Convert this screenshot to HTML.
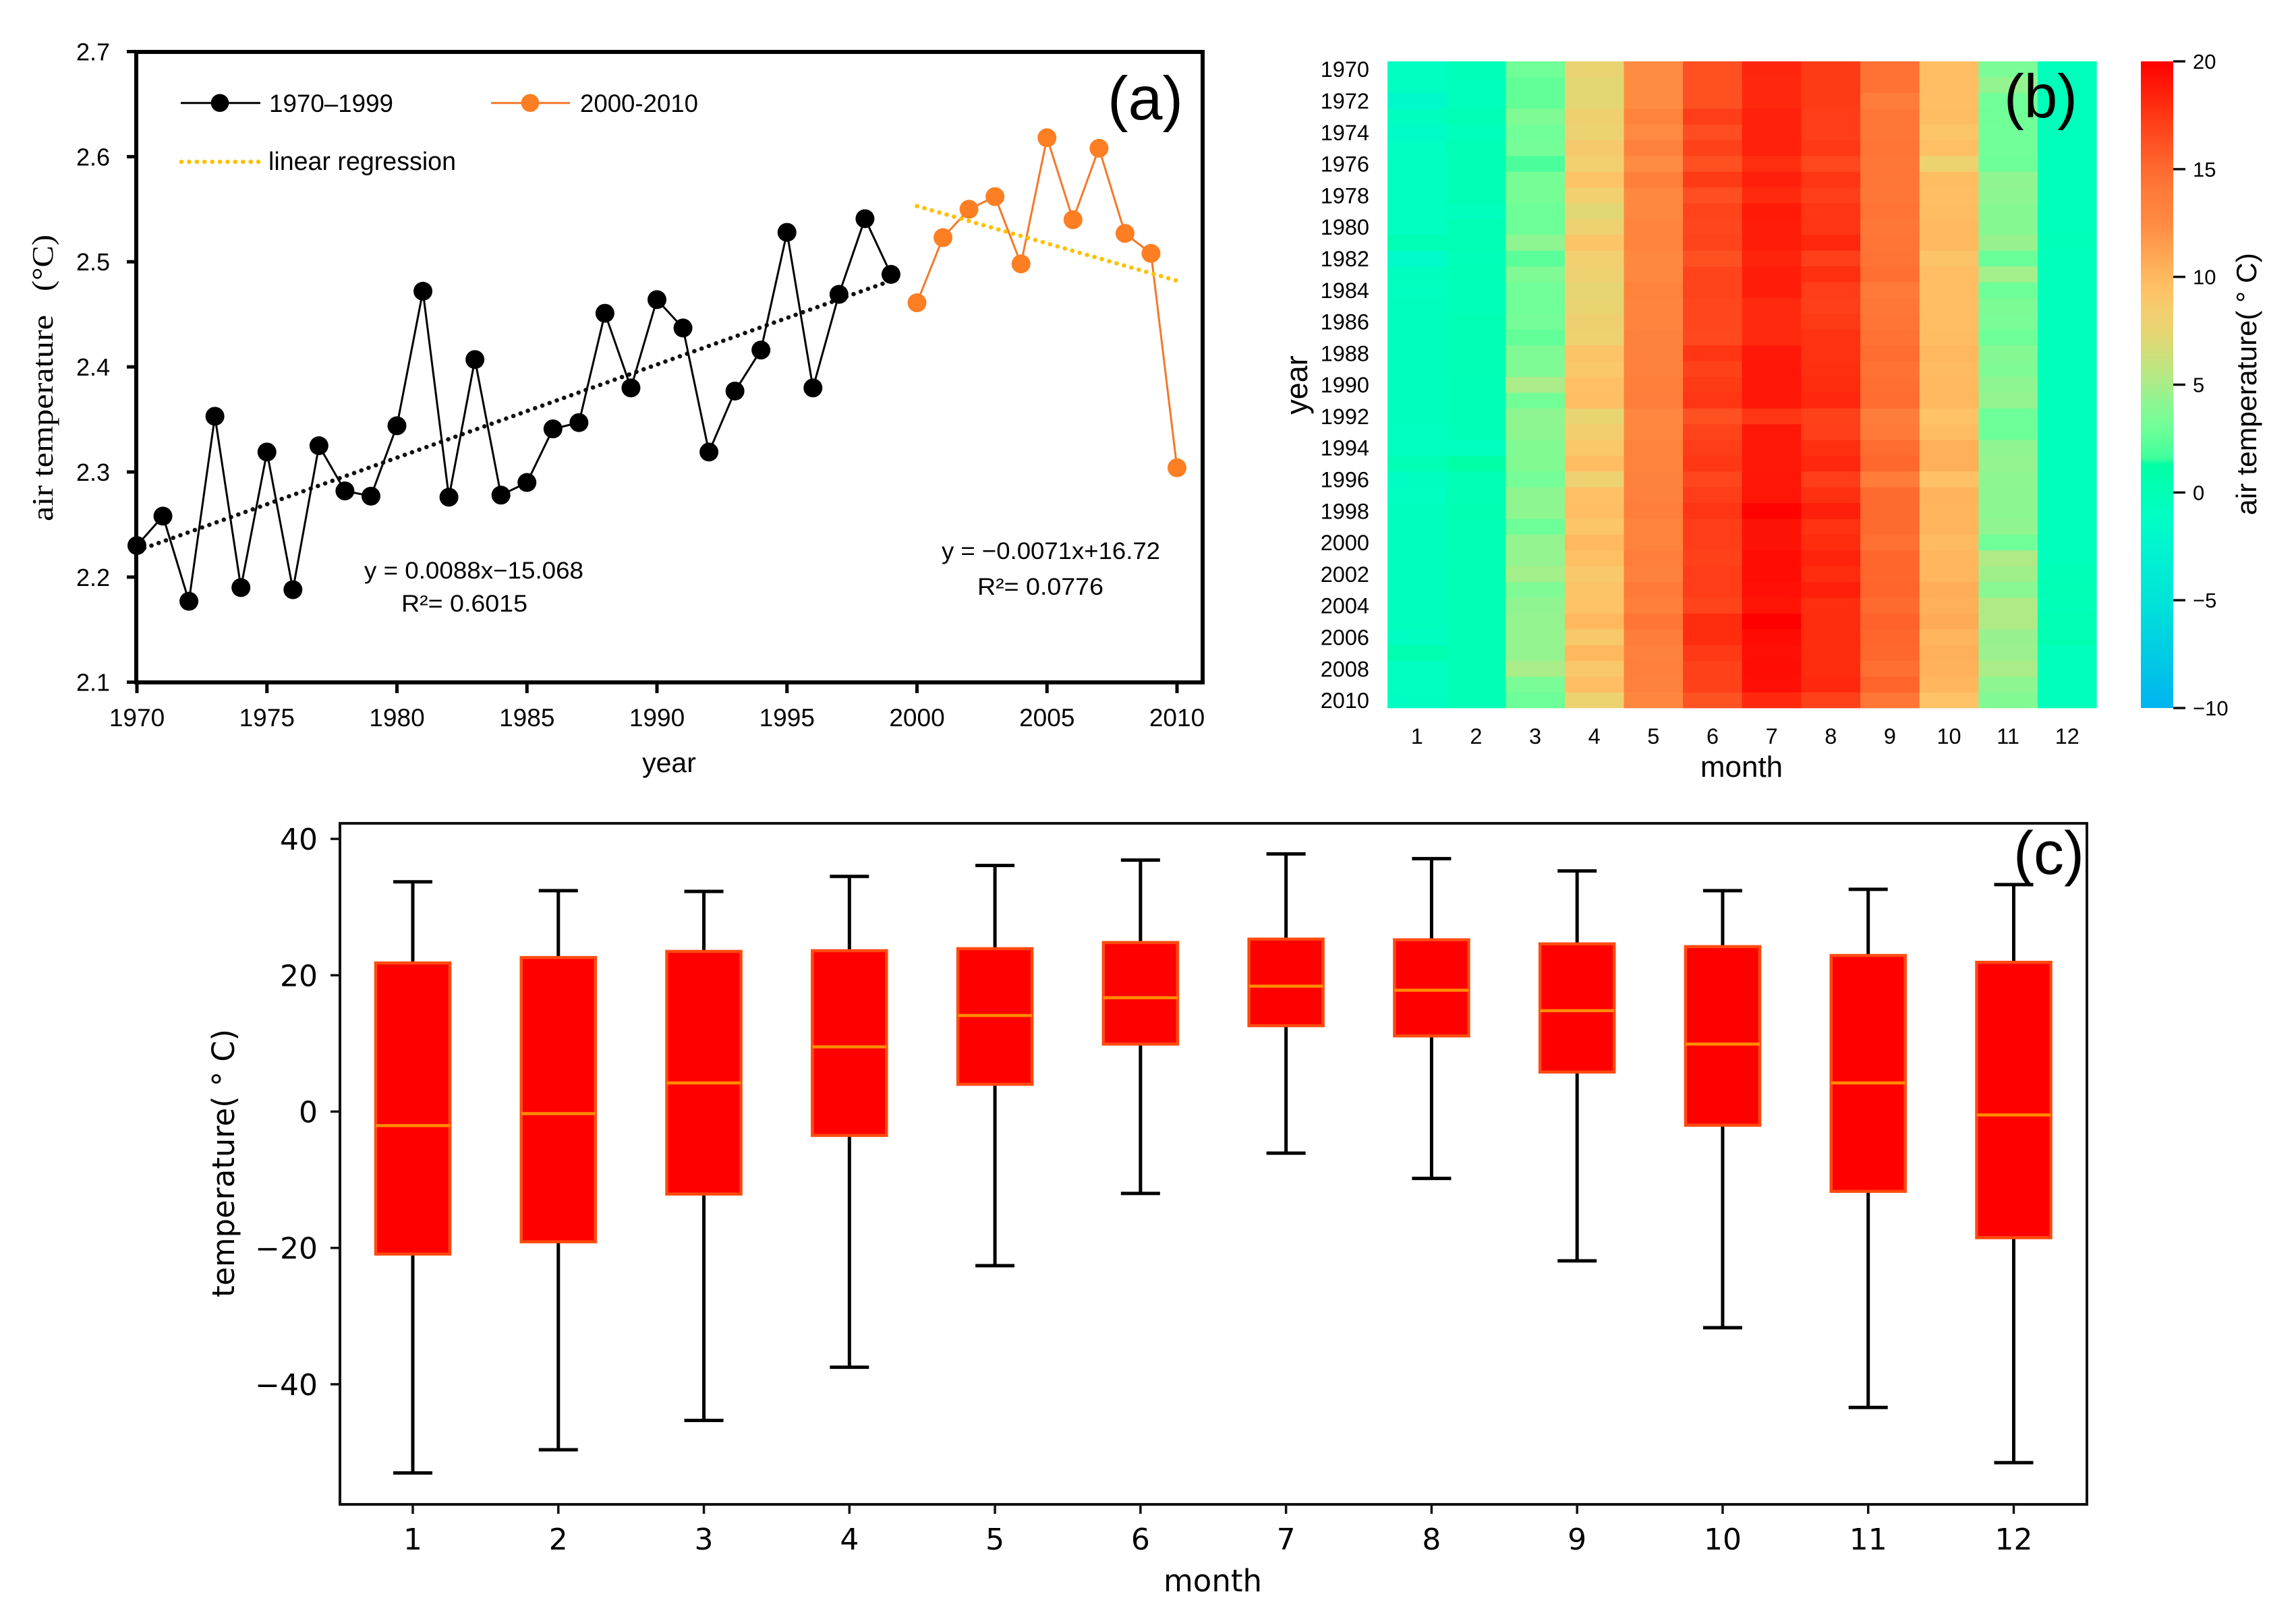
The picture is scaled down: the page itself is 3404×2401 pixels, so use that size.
<!DOCTYPE html>
<html lang="en">
<head>
<meta charset="utf-8">
<title>Air temperature charts</title>
<style>
html,body{margin:0;padding:0;background:#fff;}
svg{display:block;}
text{font-family:"Liberation Sans",sans-serif;fill:#000;}
.dv{font-family:"DejaVu Sans",sans-serif;}
.sf{font-family:"Liberation Serif",serif;}
</style>
</head>
<body>
<svg id="fig" xmlns="http://www.w3.org/2000/svg" width="3404" height="2401" viewBox="0 0 3404 2401">
  <rect x="0" y="0" width="3404" height="2401" fill="#fff"/>
  <g id="panelA"></g>
  <g id="panelB"></g>
  <g id="panelC"></g>

  <g>
    <line x1="268" y1="152.7" x2="386" y2="152.7" stroke="#000" stroke-width="3"/>
    <circle cx="326" cy="152.7" r="13.3" fill="#000"/>
    <text x="399" y="166" font-size="37" textLength="184" lengthAdjust="spacingAndGlyphs">1970–1999</text>
    <line x1="728" y1="152.7" x2="845" y2="152.7" stroke="#F4782A" stroke-width="3"/>
    <circle cx="786" cy="152.7" r="13.3" fill="#FD7E23"/>
    <text x="860" y="166" font-size="37" textLength="175" lengthAdjust="spacingAndGlyphs">2000-2010</text>
    <line x1="269" y1="240" x2="385" y2="240" stroke="#FFC000" stroke-width="6.5" stroke-linecap="round" stroke-dasharray="0.1 11.3"/>
    <text x="398" y="252" font-size="38" textLength="278" lengthAdjust="spacingAndGlyphs">linear regression</text>
  </g>
  <text x="540" y="858" font-size="35" textLength="325" lengthAdjust="spacingAndGlyphs">y = 0.0088x−15.068</text>
  <text x="595" y="907" font-size="35" textLength="187" lengthAdjust="spacingAndGlyphs">R²= 0.6015</text>
  <text x="1396" y="829" font-size="35" textLength="324" lengthAdjust="spacingAndGlyphs">y = −0.0071x+16.72</text>
  <text x="1449" y="882" font-size="35" textLength="187" lengthAdjust="spacingAndGlyphs">R²= 0.0776</text>
  <text x="1642" y="177" font-size="91" textLength="112" lengthAdjust="spacingAndGlyphs">(a)</text>
  <text x="992" y="1145" font-size="41" text-anchor="middle">year</text>
  <text class="sf" transform="translate(78,773) rotate(-90)" font-size="44" textLength="306" lengthAdjust="spacingAndGlyphs">air temperature</text>
  <text class="sf" transform="translate(78,432) rotate(-90)" font-size="44" textLength="84" lengthAdjust="spacingAndGlyphs">(°C)</text>

  <text x="2971" y="174" font-size="91" textLength="109" lengthAdjust="spacingAndGlyphs">(b)</text>
  <text x="2582" y="1152" font-size="44" text-anchor="middle">month</text>
  <text transform="translate(1938,571) rotate(-90)" font-size="45" text-anchor="middle">year</text>
  <text transform="translate(3345,764) rotate(-90)" font-size="42" textLength="389" lengthAdjust="spacingAndGlyphs">air temperature( ° C)</text>

  <text x="2985" y="1296" font-size="90" textLength="105" lengthAdjust="spacingAndGlyphs">(c)</text>
  <text class="dv" x="1798" y="2360" font-size="45" text-anchor="middle">month</text>
  <text class="dv" transform="translate(347,1924) rotate(-90)" font-size="45" textLength="398" lengthAdjust="spacingAndGlyphs">temperature( ° C)</text>
</svg>
<script>
// ---------- Panel (a) data ----------
const earlyYears = [1970,1971,1972,1973,1974,1975,1976,1977,1978,1979,1980,1981,1982,1983,1984,1985,1986,1987,1988,1989,1990,1991,1992,1993,1994,1995,1996,1997,1998,1999];
const earlyTemps = [2.23,2.258,2.177,2.353,2.19,2.319,2.188,2.325,2.282,2.277,2.344,2.472,2.276,2.407,2.278,2.29,2.341,2.347,2.451,2.38,2.464,2.437,2.319,2.377,2.416,2.528,2.38,2.469,2.541,2.488];
const lateYears = [2000,2001,2002,2003,2004,2005,2006,2007,2008,2009,2010];
const lateTemps = [2.461,2.523,2.55,2.562,2.498,2.618,2.54,2.608,2.527,2.508,2.304];
const earlyTrendYears = [1970,1999];
const earlyTrendTemps = [2.225,2.482];
const lateTrendYears = [2000,2010];
const lateTrendTemps = [2.553,2.482];
const lineXTicks = [1970,1975,1980,1985,1990,1995,2000,2005,2010];
const lineYTicks = [2.1,2.2,2.3,2.4,2.5,2.6,2.7];

// ---------- Panel (b) data: one array per month, rows 1970..2010 ----------
const heatYears = [1970,1971,1972,1973,1974,1975,1976,1977,1978,1979,1980,1981,1982,1983,1984,1985,1986,1987,1988,1989,1990,1991,1992,1993,1994,1995,1996,1997,1998,1999,2000,2001,2002,2003,2004,2005,2006,2007,2008,2009,2010];
const heatMonths = [1,2,3,4,5,6,7,8,9,10,11,12];
const heatJan = [-1.0,-0.9,-1.9,-0.8,-1.4,-1,-0.9,-0.9,-0.9,-0.9,-0.9,0.2,-1.7,-0.8,-0.9,-0.8,-0.8,-0.8,-0.8,-0.7,-0.7,-0.8,-0.8,-0.9,-0.9,0,-1.1,-1,-0.8,-0.8,-0.8,-0.7,-0.7,-0.7,-0.8,-0.8,-1.1,0.4,-0.9,-0.9,-1.1];
const heatFeb = [-0.3,-0.4,-0.4,0,-0.4,0,0,0,0,-0.6,0,0,-0.3,-0.2,-0.3,-0.3,0,0,-0.1,-0.1,-0.2,-0.2,-0.2,-0.2,-0.9,1.2,0,0.1,0.3,0.2,0.1,0,0.2,0.1,0,0,0,0,0,0,-0.1];
const heatMar = [3,2.6,2.6,3.6,3,3.2,1.9,3.3,3.3,2.9,2.9,4.2,2.4,3.6,3,3,3.2,2.6,3.6,3.6,5,3.1,4.2,4.2,3.7,3.7,3.2,4.2,4.2,2.9,4.4,4.4,4.8,3.6,4.3,4.4,4.4,4.4,5,3.4,2.9];
const heatApr = [7.7,7.3,7.3,8.2,7.8,8.7,8.3,9.2,8.3,7.2,8,9.2,8.3,8,7.4,7.6,8.1,8,9.2,9,9.5,9.6,7.5,8.4,9,9.7,8,9.5,9.6,9.1,10,9.5,8.8,9.2,9.3,10,8.8,10,8.9,9.6,7.9];
const heatMay = [12.4,12.4,12.4,13.2,12.5,13.3,12.4,13.5,12.7,12.7,13.1,13.1,12.7,12.7,13.2,13,13,13.3,13.3,13.3,13.5,13.6,12.8,12.8,13.2,13.2,13.3,13.3,13.6,13.2,13.2,13.6,13.3,14,13.5,14.3,13.7,13.3,13.4,13.3,12.9];
const heatJun = [16.3,16.3,16.3,17.2,16.5,17,16.3,17.3,16.4,16.9,16.8,16.9,16.3,16.9,16.9,16.8,16.8,16.7,17.6,17,17.3,17.6,16.3,16.9,17.2,17.5,16.8,17.2,17.6,17.2,17.2,17,17.2,17.2,16.9,18,18,17.4,17,17,16.2];
const heatJul = [18.3,18.2,18.2,18.5,18.5,18.5,17.9,18.6,18.1,18.8,18.7,18.7,18.4,18.7,18.7,18.1,18.1,18.1,18.9,19,19,19,17.6,18.9,18.9,18.9,19,19,19.9,19.2,19.2,19.4,19.4,19.3,19.1,20,19.5,19.3,19.4,19.3,18.2];
const heatAug = [17.3,17.3,17.3,17.2,17.2,17.4,16.7,17.6,17.1,17.6,17.6,18.2,17.1,17.8,17.2,17.1,17.3,17.7,17.7,17.8,18,18.2,17,17.1,17.8,18.2,17.2,17.8,18.6,17.7,18,18.4,18,18.6,17.9,18,18,18,18,18.2,17];
const heatSep = [14.5,14.5,13.7,14.2,14.2,14.3,14.2,14.2,14.2,14.4,14.2,14.3,14.4,14.7,14,14.2,14.3,14.5,14.8,14.5,14.7,14.8,13.7,14,14.8,15.1,13.8,15,15,15,14.6,15.2,15.2,15.3,15,15.4,15.2,15.1,14.7,15.3,14.2];
const heatOct = [9.6,9.6,9.6,9.7,9.1,9.5,7.9,9.7,9.6,9.7,9.9,9.9,9.2,9.6,9.6,9.6,9.6,9.7,10,9.8,9.9,10,9.3,9.7,10.5,10.5,9.4,10.3,10.2,10.2,9.8,10.1,10.1,10.6,10.5,10.8,10.2,10.5,10.4,10.1,9.3];
const heatNov = [3.4,4.4,3,3.1,3,3,2.9,4.3,4.2,3.9,3.9,4.5,2.8,4.8,2.9,3.5,3.4,2.9,3.8,3.6,4.2,4.4,2.9,2.9,4.3,4.4,4.2,4.1,4.1,4.3,3,5.2,4.7,4,5.2,5.2,4.5,4.6,5,4.2,3.7];
const heatDec = [-0.5,-0.5,-0.5,-0.5,-0.5,-0.5,-0.5,-0.5,-0.5,-0.4,-0.4,-0.3,-0.4,-0.4,-0.5,-0.4,-0.4,-0.4,-0.4,-0.4,-0.4,-0.4,-0.4,-0.4,-0.4,-0.4,-0.4,-0.4,-0.4,-0.4,-0.4,-0.4,-0.2,0,-0.2,0.1,0.1,-0.4,-0.4,-0.4,-0.4];
const heatColumns = [heatJan,heatFeb,heatMar,heatApr,heatMay,heatJun,heatJul,heatAug,heatSep,heatOct,heatNov,heatDec];
const colorbarTicks = [20,15,10,5,0,-5,-10];
const colorValues = [-10,-5,-2.5,-1,0,1.3,1.6,3,4.3,5,6.3,7.5,8.5,9.5,10.5,12.5,14,15,16.5,18,20];
const colorHexes = ["#00b4f0","#00e4d8","#00f5d0","#00ffc2","#00ffb4","#00ffa5","#40ff9c","#70ff98","#90f590","#aaec88","#cbe07c","#e8d572","#f4cd6e","#ffc064","#ffb058","#ff8a42","#ff7a38","#ff6a2e","#ff4c20","#ff2c0e","#ff0000"];

// ---------- Panel (c) data ----------
const boxMonths = [1,2,3,4,5,6,7,8,9,10,11,12];
const boxWhiskerHigh = [33.7,32.4,32.3,34.5,36.1,36.9,37.8,37.1,35.3,32.4,32.6,33.3];
const boxUpperQuartile = [21.8,22.6,23.5,23.6,23.9,24.8,25.3,25.2,24.6,24.2,22.9,21.9];
const boxMedian = [-2.05,-0.3,4.2,9.5,14.1,16.7,18.4,17.8,14.8,9.9,4.2,-0.5];
const boxLowerQuartile = [-20.9,-19.1,-12.1,-3.5,4,9.9,12.6,11.1,5.8,-2,-11.7,-18.5];
const boxWhiskerLow = [-53,-49.6,-45.3,-37.5,-22.6,-12,-6.1,-9.8,-21.9,-31.7,-43.4,-51.5];
const boxYTicks = [40,20,0,-20,-40];

// ---------- Helpers ----------
const NS = "http://www.w3.org/2000/svg";
function make(tag, attrs, parent, txt) {
  const el = document.createElementNS(NS, tag);
  for (const k in attrs) el.setAttribute(k, attrs[k]);
  if (txt !== undefined) el.textContent = txt;
  parent.appendChild(el);
  return el;
}
function minusText(v) { return String(v).replace("-", "\u2212"); }
function hexRgb(h) { return [parseInt(h.slice(1,3),16),parseInt(h.slice(3,5),16),parseInt(h.slice(5,7),16)]; }
function heatColor(v) {
  if (v <= colorValues[0]) return colorHexes[0];
  for (let i = 1; i < colorValues.length; i++) {
    if (v <= colorValues[i]) {
      const t = (v - colorValues[i-1]) / (colorValues[i] - colorValues[i-1]);
      const a = hexRgb(colorHexes[i-1]), b = hexRgb(colorHexes[i]);
      return "rgb(" + a.map((c,j) => Math.round(c + (b[j]-c)*t)).join(",") + ")";
    }
  }
  return colorHexes[colorHexes.length-1];
}

// ---------- Panel (a) ----------
const panelA = document.getElementById("panelA");
const lineX = y => 203 + (y - 1970) * (1745 - 203) / 40;
const lineY = v => 1011.7 - (v - 2.1) * (1011.7 - 76.5) / 0.6;

function drawSeries(years, temps, color, lineColor, name) {
  const pts = years.map((y,i) => lineX(y).toFixed(1) + "," + lineY(temps[i]).toFixed(1)).join(" ");
  const line = make("polyline", {points:pts, fill:"none", stroke:lineColor, "stroke-width":3, "stroke-linejoin":"miter"}, panelA);
  
  
  years.forEach((y,i) => {
    const c = make("circle", {cx:lineX(y), cy:lineY(temps[i]), r:14, fill:color}, panelA);
    
    
  });
}
function drawTrend(years, temps) {
  const t = make("line", {x1:lineX(years[0]), y1:lineY(temps[0]), x2:lineX(years[1]), y2:lineY(temps[1]), "stroke-linecap":"round", "stroke-dasharray":"0.1 11.3", "stroke-width":6.5}, panelA);
  return t;
}
const frameA = make("rect", {x:202, y:77, width:1581, height:935, fill:"none", stroke:"#000", "stroke-width":6}, panelA);


lineXTicks.forEach(t => {
  const tick = make("line", {x1:lineX(t), x2:lineX(t), y1:1012, y2:1028, stroke:"#000", "stroke-width":5}, panelA);
  
  
  const lab = make("text", {x:lineX(t), y:1077, "font-size":37, "text-anchor":"middle"}, panelA, String(t));
  
  
});
lineYTicks.forEach(t => {
  const tick = make("line", {x1:188, x2:202, y1:lineY(t), y2:lineY(t), stroke:"#000", "stroke-width":5}, panelA);
  
  
  const lab = make("text", {x:163, y:lineY(t)+13, "font-size":36, "text-anchor":"end"}, panelA, t.toFixed(1));
  
  
});
const trendEarly = drawTrend(earlyTrendYears, earlyTrendTemps);
trendEarly.setAttribute('stroke', '#111');


drawSeries(earlyYears, earlyTemps, "#000", "#000", "series-1970-1999");
drawSeries(lateYears, lateTemps, "#FD7E23", "#F4782A", "series-2000-2010");
const trendLate = drawTrend(lateTrendYears, lateTrendTemps);
trendLate.setAttribute('stroke', '#FFC000');



// ---------- Panel (b) ----------
const panelB = document.getElementById("panelB");
const heatLeft = 2057, heatTop = 91, heatW = (3108.6 - 2057) / heatMonths.length, heatH = (1050.3 - 91) / heatYears.length;
const heatX = i => heatLeft + i * heatW;
const heatY = i => heatTop + i * heatH;
heatColumns.forEach((col, m) => {
  col.forEach((v, r) => {
    const cell = make("rect", {x:heatX(m).toFixed(2), y:heatY(r).toFixed(2), width:(heatW + (m < 11 ? 0.6 : 0)).toFixed(2), height:(heatH + (r < 40 ? 0.6 : 0)).toFixed(2), fill:heatColor(v)}, panelB);
    
    
  });
});
heatYears.forEach((y, r) => {
  if (r % 2 === 0) {
    const lab = make("text", {x:2030, y:heatY(r) + heatH/2 + 11.5, "font-size":32.5, "text-anchor":"end"}, panelB, String(y));
    
    
  }
});
heatMonths.forEach((mo, m) => {
  const lab = make("text", {x:heatX(m) + heatW/2, y:1103, "font-size":32.5, "text-anchor":"middle"}, panelB, String(mo));
  
  
});
// colourbar
const cbY = v => 91 + (20 - v) * (1050 - 91) / 30;
const defs = make("defs", {}, panelB);
const grad = make("linearGradient", {id:"cbGrad", x1:0, y1:0, x2:0, y2:1}, defs);
colorValues.forEach((v,i) => {
  make("stop", {offset:((20 - v)/30).toFixed(4), "stop-color":colorHexes[i]}, grad);
});
// SVG gradient stops need ascending offsets: reorder
Array.from(grad.children).reverse().forEach(s => grad.appendChild(s));
const cbar = make("rect", {x:3174, y:91, width:48, height:959, fill:"url(#cbGrad)"}, panelB);


colorbarTicks.forEach(t => {
  const tick = make("line", {x1:3222, x2:3240, y1:cbY(t), y2:cbY(t), stroke:"#111", "stroke-width":3.5}, panelB);
  
  
  const lab = make("text", {x:3251, y:cbY(t)+11, "font-size":31}, panelB, minusText(t));
  
  
});

// ---------- Panel (c) ----------
const panelC = document.getElementById("panelC");
const boxX = m => 612 + (m - 1) * (2985.5 - 612) / 11;
const boxY = v => 1648.5 - v * 10.11;
const frameC = make("rect", {x:504, y:1221, width:2590, height:1010, fill:"none", stroke:"#111", "stroke-width":4}, panelC);


boxYTicks.forEach(t => {
  const tick = make("line", {x1:490, x2:504, y1:boxY(t), y2:boxY(t), stroke:"#111", "stroke-width":3.5}, panelC);
  
  
  const lab = make("text", {class:"dv", x:471, y:boxY(t)+16, "font-size":44, "text-anchor":"end"}, panelC, minusText(t));
  
  
});
boxMonths.forEach((mo, i) => {
  const x = boxX(mo), half = 55, cap = 29;
  const tick = make("line", {x1:x, x2:x, y1:2231, y2:2245, stroke:"#111", "stroke-width":3.5}, panelC);
  
  
  const lab = make("text", {class:"dv", x:x, y:2298, "font-size":44, "text-anchor":"middle"}, panelC, String(mo));
  
  
  const whisker = make("line", {x1:x, x2:x, y1:boxY(boxWhiskerHigh[i]), y2:boxY(boxWhiskerLow[i]), stroke:"#000", "stroke-width":5}, panelC);
  
  
  const capHigh = make("line", {x1:x-cap, x2:x+cap, y1:boxY(boxWhiskerHigh[i]), y2:boxY(boxWhiskerHigh[i]), stroke:"#000", "stroke-width":5}, panelC);
  
  
  const capLow = make("line", {x1:x-cap, x2:x+cap, y1:boxY(boxWhiskerLow[i]), y2:boxY(boxWhiskerLow[i]), stroke:"#000", "stroke-width":5}, panelC);
  
  
  const box = make("rect", {x:x-half, y:boxY(boxUpperQuartile[i]), width:half*2, height:boxY(boxLowerQuartile[i]) - boxY(boxUpperQuartile[i]), fill:"#ff0000", stroke:"#ff4a10", "stroke-width":4.5}, panelC);
  
  
  const med = make("line", {x1:x-half, x2:x+half, y1:boxY(boxMedian[i]), y2:boxY(boxMedian[i]), stroke:"#ff8c00", "stroke-width":4.5}, panelC);
  
  
});
</script>
</body>
</html>
